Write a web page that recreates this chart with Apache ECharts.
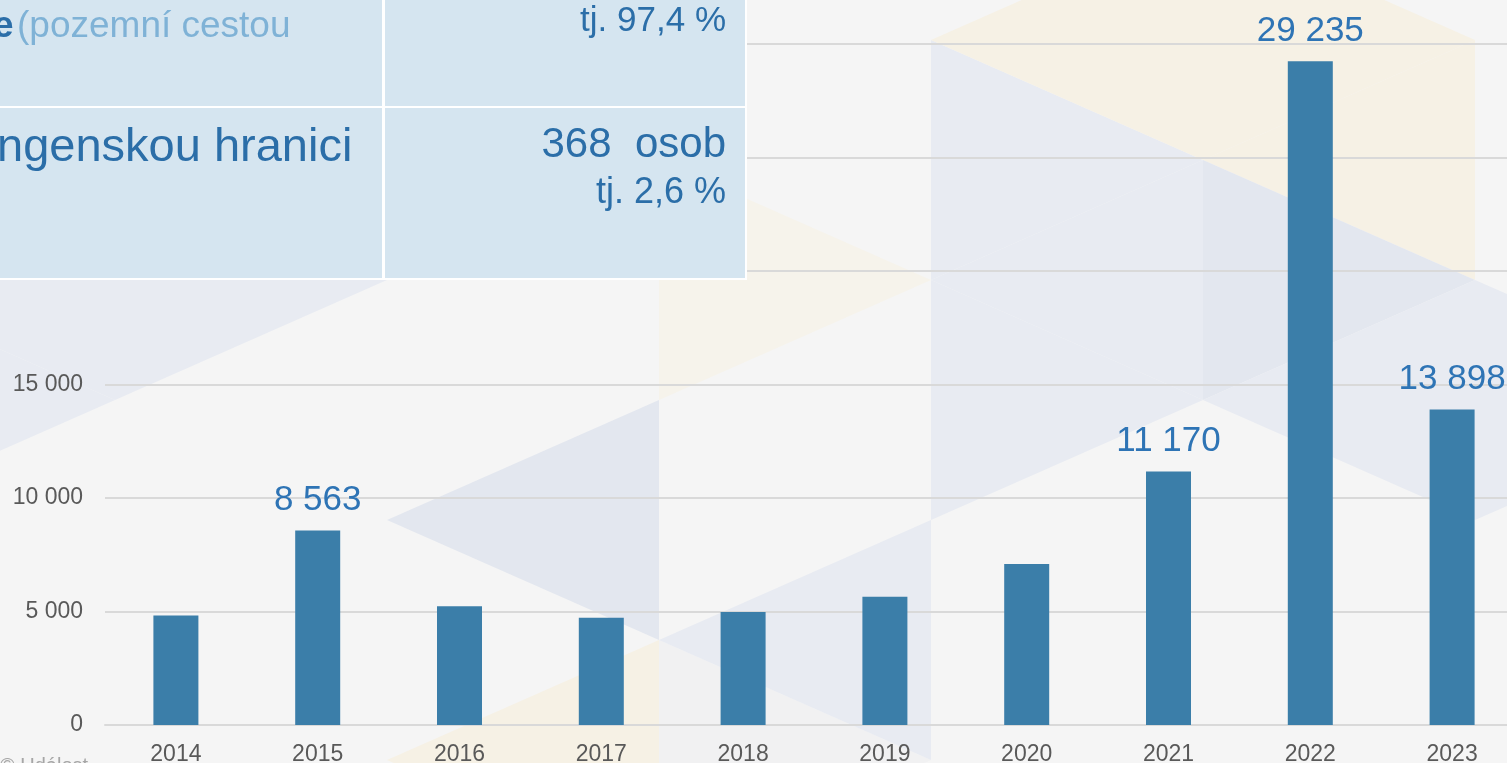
<!DOCTYPE html>
<html>
<head>
<meta charset="utf-8">
<script src="https://cdn.jsdelivr.net/npm/echarts@6/dist/echarts.min.js"></script>
<style>
  html, body { margin: 0; padding: 0; background: #f5f5f5; }
  #main { width: 1507px; height: 763px; }
</style>
</head>
<body>
<div id="main"></div>
<script>
// data
var years = ['2014', '2015', '2016', '2017', '2018', '2019', '2020', '2021', '2022', '2023'];
var persons = [4820, 8563, 5230, 4720, 4980, 5650, 7090, 11170, 29235, 13898];
var labelledYears = ['2015', '2021', '2022', '2023'];

// texts of the table fragment in the top left corner
var rowOneLeft = ['e', '(pozemní cestou'];
var rowTwoLeft = 'ngenskou hranici';
var rowOneRight = 'tj. 97,4 %';
var rowTwoRight = ['368  osob', 'tj. 2,6 %'];
var footerText = '© Událost';

var FONT = '"Liberation Sans", Arial, sans-serif';
var DARK = '#2b6ea8';
var LIGHT = '#7fb2d6';
var CELL = '#d5e5f0';

function fmt(v) {
  return String(v).replace(/\B(?=(\d{3})+(?!\d))/g, ' ');
}

var barData = persons.map(function (v, i) {
  return {
    value: v,
    label: { show: labelledYears.indexOf(years[i]) >= 0 }
  };
});

// slide background: triangle lattice, vertical lines every 272px
var LX0 = 115, LDX = 272;
function lineX(k) { return LX0 + LDX * k; }
var BLUE = '#e8ebf2', BLUE2 = '#e3e7ef', YEL = '#f6f1e5', YEL2 = '#f6f3eb', GREY = '#f1f1f2';
// [line k, side, top y, colour]  L: vertical edge on line k, R: on line k+1
var bgTriangles = [
  [-1, 'L', 280, BLUE], [-1, 'R', 160, BLUE], [0, 'L', 160, BLUE],
  [1, 'R', 400, BLUE2], [1, 'R', 640, YEL],
  [2, 'L', 640, GREY], [2, 'R', 520, BLUE], [2, 'L', 160, YEL2],
  [3, 'L', 40, BLUE], [3, 'R', -80, YEL], [3, 'R', 160, BLUE], [3, 'L', 280, BLUE],
  [4, 'L', -80, YEL], [4, 'R', 40, YEL], [4, 'L', 160, BLUE2], [4, 'R', 280, BLUE],
  [5, 'L', 280, BLUE]
];

var graphics = bgTriangles.map(function (t) {
  var k = t[0], y = t[2];
  var pts = t[1] === 'L'
    ? [[lineX(k), y], [lineX(k), y + 240], [lineX(k + 1), y + 120]]
    : [[lineX(k + 1), y], [lineX(k + 1), y + 240], [lineX(k), y + 120]];
  return { type: 'polygon', z: -10, silent: true, shape: { points: pts }, style: { fill: t[3] } };
});

// table fragment drawn on top of the chart
graphics.push(
  { type: 'rect', z: 50, shape: { x: 0, y: -10, width: 747, height: 290 }, style: { fill: '#ffffff' } },
  { type: 'rect', z: 51, shape: { x: 0, y: -10, width: 382, height: 116 }, style: { fill: CELL } },
  { type: 'rect', z: 51, shape: { x: 385, y: -10, width: 360, height: 116 }, style: { fill: CELL } },
  { type: 'rect', z: 51, shape: { x: 0, y: 108, width: 382, height: 170 }, style: { fill: CELL } },
  { type: 'rect', z: 51, shape: { x: 385, y: 108, width: 360, height: 170 }, style: { fill: CELL } },
  { type: 'text', z: 52, style: { text: rowOneLeft[0], x: -7, y: 27, fill: DARK, font: 'bold 37px ' + FONT, verticalAlign: 'middle' } },
  { type: 'text', z: 52, style: { text: rowOneLeft[1], x: 17, y: 27, fill: LIGHT, font: '37px ' + FONT, verticalAlign: 'middle' } },
  { type: 'text', z: 52, style: { text: rowTwoLeft, x: -3, y: 148, fill: DARK, font: '47px ' + FONT, verticalAlign: 'middle' } },
  { type: 'text', z: 52, style: { text: rowOneRight, x: 726, y: 21, fill: DARK, font: '35px ' + FONT, align: 'right', verticalAlign: 'middle' } },
  { type: 'text', z: 52, style: { text: rowTwoRight[0], x: 726, y: 145, fill: DARK, font: '42px ' + FONT, align: 'right', verticalAlign: 'middle' } },
  { type: 'text', z: 52, style: { text: rowTwoRight[1], x: 726, y: 193, fill: DARK, font: '36px ' + FONT, align: 'right', verticalAlign: 'middle' } },
  { type: 'text', z: 52, style: { text: footerText, x: 0, y: 756, fill: '#a6a6a6', font: '20px ' + FONT, verticalAlign: 'top' } }
);

var chart = echarts.init(document.getElementById('main'));
chart.setOption({
  backgroundColor: '#f5f5f5',
  animation: false,
  textStyle: { fontFamily: FONT },
  grid: { left: 105, right: -16, top: 44, bottom: 38, outerBoundsMode: 'none', containLabel: false },
  xAxis: {
    type: 'category',
    data: years,
    axisTick: { show: false },
    axisLine: { lineStyle: { color: '#d9d9d9', width: 2 } },
    axisLabel: { color: '#595959', fontSize: 23, margin: 18 }
  },
  yAxis: {
    type: 'value',
    min: 0,
    max: 30000,
    interval: 5000,
    axisLine: { show: false },
    axisTick: { show: false },
    axisLabel: { color: '#595959', fontSize: 23, margin: 22, formatter: fmt },
    splitLine: { lineStyle: { color: '#d9d9d9', width: 2 } }
  },
  series: [{
    type: 'bar',
    data: barData,
    barWidth: 45,
    itemStyle: { color: '#3b7ea9' },
    label: {
      position: 'top',
      distance: 13,
      color: '#2e74b5',
      fontSize: 35,
      formatter: function (p) { return fmt(p.value); }
    }
  }],
  graphic: { elements: graphics }
});
</script>
</body>
</html>
